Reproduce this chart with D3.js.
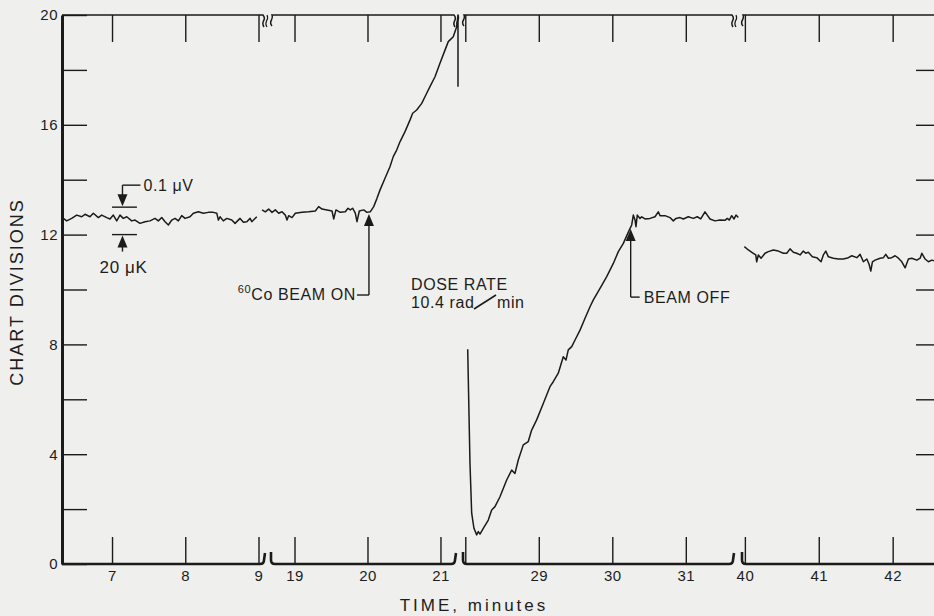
<!DOCTYPE html>
<html>
<head>
<meta charset="utf-8">
<script src="https://cdn.jsdelivr.net/npm/d3@7"></script>
<style>
  html, body { margin: 0; padding: 0; background: #efefed; }
  svg { display: block; }
  text { font-family: "Liberation Sans", Arial, sans-serif; fill: #1d1d1d; }
</style>
</head>
<body>
<svg id="chart" width="934" height="616"></svg>
<script>
// ---- time windows (minutes) shown on the broken time axis ----
const segmentDomains = [[6.317, 9.075], [18.678, 21.199], [27.969, 31.642], [39.961, 42.6]];
const segmentTicks = [[7, 8, 9], [19, 20, 21], [28, 29, 30, 31], [40, 41, 42]];
const segmentTickLabels = [["7", "8", "9"], ["19", "20", "21"], ["", "29", "30", "31"], ["40", "41", "42"]];

// ---- chart divisions ----
const yTicks = [0, 2, 4, 6, 8, 10, 12, 14, 16, 18, 20];
const yTickLabels = ["0", "", "4", "", "8", "", "12", "", "16", "", "20"];
const yRightTicks = [2, 4, 6, 8, 10, 12, 14, 16, 18];

// ---- recorder trace, one run per time window ----
const trace1Time = [6.335, 6.381, 6.449, 6.518, 6.586, 6.631, 6.699, 6.745, 6.813, 6.859, 6.928, 6.973,
  7.018, 7.064, 7.109, 7.154, 7.201, 7.269, 7.314, 7.382, 7.451, 7.519, 7.587, 7.632, 7.679, 7.724,
  7.769, 7.816, 7.861, 7.906, 7.952, 7.997, 8.065, 8.111, 8.179, 8.247, 8.315, 8.384, 8.430, 8.452,
  8.475, 8.520, 8.567, 8.635, 8.680, 8.748, 8.794, 8.840, 8.885, 8.908, 8.977];
const trace1Value = [12.59, 12.50, 12.59, 12.71, 12.65, 12.74, 12.65, 12.78, 12.62, 12.71, 12.62, 12.57,
  12.71, 12.50, 12.71, 12.59, 12.65, 12.50, 12.53, 12.41, 12.47, 12.50, 12.59, 12.50, 12.62, 12.47,
  12.35, 12.53, 12.59, 12.50, 12.69, 12.59, 12.65, 12.78, 12.83, 12.78, 12.81, 12.81, 12.78, 12.53,
  12.65, 12.50, 12.59, 12.53, 12.41, 12.59, 12.45, 12.47, 12.59, 12.47, 12.65];

const trace2Time = [18.555, 18.600, 18.646, 18.692, 18.737, 18.783, 18.829, 18.874, 18.897, 18.920,
  18.966, 19.011, 19.103, 19.194, 19.285, 19.331, 19.377, 19.445, 19.514, 19.537, 19.568, 19.627,
  19.696, 19.733, 19.764, 19.797, 19.833, 19.856, 19.888, 19.948, 19.993, 20.038, 20.085, 20.130,
  20.171, 20.240, 20.308, 20.353, 20.400, 20.445, 20.514, 20.582, 20.619, 20.674, 20.743, 20.811,
  20.856, 20.925, 20.993, 21.062, 21.107, 21.175, 21.222, 21.240, 21.240];
const trace2Value = [12.90, 12.83, 12.93, 12.81, 12.90, 12.78, 12.83, 12.71, 12.53, 12.69,
  12.62, 12.78, 12.81, 12.83, 12.86, 13.02, 12.93, 12.90, 12.86, 12.57, 12.90, 12.81,
  12.83, 12.96, 12.90, 12.96, 12.78, 12.47, 12.86, 12.90, 12.81, 12.83, 13.02, 13.32,
  13.62, 14.05, 14.47, 14.84, 15.08, 15.38, 15.75, 16.17, 16.42, 16.54, 16.78, 17.15,
  17.39, 17.75, 18.24, 18.72, 19.03, 19.21, 19.57, 20.00, 17.39];

const trace3Time = [28.033, 28.064, 28.087, 28.118, 28.155, 28.177, 28.200, 28.245, 28.313, 28.359,
  28.404, 28.472, 28.563, 28.631, 28.676, 28.721, 28.789, 28.857, 28.903, 28.971, 29.061, 29.152,
  29.197, 29.265, 29.333, 29.370, 29.401, 29.448, 29.493, 29.561, 29.629, 29.697, 29.742, 29.833,
  29.924, 30.014, 30.082, 30.150, 30.218, 30.264, 30.286, 30.309, 30.322, 30.340, 30.377, 30.400,
  30.445, 30.513, 30.581, 30.626, 30.649, 30.717, 30.785, 30.830, 30.867, 30.921, 30.966, 31.034,
  31.102, 31.156, 31.203, 31.261, 31.292, 31.329, 31.397, 31.465, 31.533, 31.565, 31.592, 31.624,
  31.656, 31.683, 31.714];
const trace3Value = [7.82, 3.67, 1.85, 1.30, 1.06, 1.18, 1.09, 1.30, 1.60, 1.97,
  2.09, 2.45, 3.06, 3.42, 3.30, 3.79, 4.34, 4.46, 4.88, 5.25, 5.85, 6.46,
  6.64, 6.95, 7.55, 7.43, 7.80, 7.92, 8.16, 8.52, 8.95, 9.37, 9.62, 10.04,
  10.47, 10.95, 11.38, 11.68, 12.09, 12.35, 12.71, 12.53, 12.29, 12.71, 12.59, 12.65,
  12.57, 12.59, 12.65, 12.83, 12.69, 12.69, 12.62, 12.50, 12.59, 12.62, 12.57, 12.65,
  12.59, 12.65, 12.57, 12.83, 12.71, 12.57, 12.50, 12.53, 12.52, 12.59, 12.53, 12.69,
  12.57, 12.71, 12.62];

const trace4Time = [39.993, 40.047, 40.114, 40.147, 40.160, 40.182, 40.219, 40.273, 40.318, 40.385,
  40.453, 40.521, 40.567, 40.611, 40.656, 40.702, 40.747, 40.791, 40.824, 40.859, 40.913, 40.973,
  41.031, 41.062, 41.095, 41.130, 41.198, 41.265, 41.333, 41.401, 41.447, 41.515, 41.559, 41.604,
  41.650, 41.681, 41.704, 41.726, 41.762, 41.830, 41.875, 41.907, 41.942, 41.988, 42.033, 42.078,
  42.124, 42.169, 42.213, 42.259, 42.327, 42.372, 42.395, 42.439, 42.484, 42.530, 42.575];
const trace4Value = [11.56, 11.44, 11.32, 11.26, 11.01, 11.26, 11.14, 11.32, 11.38, 11.44,
  11.40, 11.32, 11.32, 11.48, 11.36, 11.32, 11.26, 11.40, 11.32, 11.36, 11.19, 11.16,
  11.01, 11.26, 11.40, 11.19, 11.14, 11.11, 11.11, 11.16, 11.23, 11.16, 11.28, 11.01,
  11.11, 10.92, 10.67, 11.01, 11.07, 11.14, 11.16, 11.28, 11.14, 11.16, 11.23, 11.14,
  11.01, 10.79, 11.11, 11.14, 11.07, 11.14, 11.32, 11.11, 11.01, 11.07, 11.04];

const traceTimes = [trace1Time, trace2Time, trace3Time, trace4Time];
const traceValues = [trace1Value, trace2Value, trace3Value, trace4Value];

// ---- annotation anchors (minutes, divisions) ----
const beamOnTime = 20.02, beamOnValue = 12.75;
const beamOffTime = 30.25, beamOffValue = 12.2;
const scaleBarTimes = [7.0, 7.34];
const scaleBarValues = [13, 12];

// ---- layout ----
const ink = "#1b1b1b";
const plotTop = 15, plotBottom = 564, plotLeft = 62, rightAxisX = 937;
const segmentRanges = [[62, 264], [271, 455], [463, 733], [742, 937]];
const tickLen = 27;

const svg = d3.select("#chart");
const y = d3.scaleLinear().domain([0, 20]).range([plotBottom, plotTop]);
const xs = segmentDomains.map((d, i) => d3.scaleLinear().domain(d).range(segmentRanges[i]));

// left axis: inward ticks, labels outside
const yAxis = d3.axisLeft(y).tickValues(yTicks)
  .tickFormat((d, i) => yTickLabels[i]).tickSize(-25).tickSizeOuter(0).tickPadding(4);
const gy = svg.append("g").attr("transform", `translate(${plotLeft},0)`).call(yAxis);
gy.select(".domain").attr("stroke", ink).attr("stroke-width", 3);
gy.selectAll(".tick line").attr("stroke", ink).attr("stroke-width", 1.4);
gy.selectAll(".tick text").attr("font-size", 15).attr("fill", ink).attr("letter-spacing", 0.5);

// right axis (frame edge lies just beyond the page)
const yAxisR = d3.axisRight(y).tickValues(yRightTicks).tickFormat("").tickSize(-21).tickSizeOuter(0);
const gyr = svg.append("g").attr("transform", `translate(${rightAxisX},0)`).call(yAxisR);
gyr.select(".domain").attr("stroke", ink).attr("stroke-width", 2);
gyr.selectAll(".tick line").attr("stroke", ink).attr("stroke-width", 1.4);

// time axis segments, bottom and top
xs.forEach((x, i) => {
  const gb = svg.append("g").attr("transform", `translate(0,${plotBottom})`)
    .call(d3.axisBottom(x).tickValues(segmentTicks[i])
      .tickFormat((d, j) => segmentTickLabels[i][j]).tickSize(-tickLen).tickSizeOuter(0).tickPadding(6));
  gb.select(".domain").remove();
  gb.selectAll(".tick line").attr("stroke", ink).attr("stroke-width", 1.4);
  gb.selectAll(".tick text").attr("font-size", 15).attr("fill", ink).attr("letter-spacing", 0.5);

  const gt = svg.append("g").attr("transform", `translate(0,${plotTop})`)
    .call(d3.axisTop(x).tickValues(segmentTicks[i]).tickFormat("").tickSize(-tickLen).tickSizeOuter(0));
  gt.select(".domain").remove();
  gt.selectAll(".tick line").attr("stroke", ink).attr("stroke-width", 1.4);

  const [x0, x1] = x.range();
  const first = i === 0, last = i === xs.length - 1;

  // bottom baseline with hooked ends at the breaks
  const p = d3.path();
  if (first) { p.moveTo(x0, plotBottom); }
  else {
    p.moveTo(x0, plotBottom - 12); p.lineTo(x0, plotBottom - 4);
    p.quadraticCurveTo(x0, plotBottom, x0 + 4, plotBottom);
  }
  if (last) { p.lineTo(x1, plotBottom); }
  else {
    p.lineTo(x1 - 4, plotBottom); p.quadraticCurveTo(x1, plotBottom, x1, plotBottom - 4);
    p.lineTo(x1 + 1, plotBottom - 11);
  }
  svg.append("path").attr("d", p.toString()).attr("fill", "none")
    .attr("stroke", ink).attr("stroke-width", 2.6);

  // top line with wavy break marks
  const q = d3.path();
  if (first) { q.moveTo(x0, plotTop); }
  else {
    q.moveTo(x0 + 1, plotTop + 11);
    q.quadraticCurveTo(x0 - 1.5, plotTop + 8, x0 + 0.5, plotTop + 5);
    q.quadraticCurveTo(x0 + 2, plotTop + 2, x0 + 1, plotTop);
  }
  q.lineTo(last ? x1 : x1 - 1, plotTop);
  if (!last) {
    q.quadraticCurveTo(x1 + 1.5, plotTop + 3, x1 - 0.5, plotTop + 6);
    q.quadraticCurveTo(x1 - 2, plotTop + 9, x1, plotTop + 12);
  }
  svg.append("path").attr("d", q.toString()).attr("fill", "none")
    .attr("stroke", ink).attr("stroke-width", 1.5);
  if (!last) {
    const w = d3.path();
    w.moveTo(x1 + 3, plotTop);
    w.quadraticCurveTo(x1 + 4.5, plotTop + 3, x1 + 2.5, plotTop + 6);
    w.quadraticCurveTo(x1 + 1, plotTop + 9, x1 + 3, plotTop + 12);
    svg.append("path").attr("d", w.toString()).attr("fill", "none")
      .attr("stroke", ink).attr("stroke-width", 1.2);
  }
});

// recorder trace
traceTimes.forEach((ts, i) => {
  const pts = ts.map((t, j) => [t, traceValues[i][j]]);
  const line = d3.line().x(d => xs[i](d[0])).y(d => y(d[1])).curve(d3.curveLinear);
  svg.append("path").datum(pts).attr("d", line).attr("fill", "none")
    .attr("stroke", ink).attr("stroke-width", 1.5).attr("stroke-linejoin", "round");
});

// helpers for annotation arrows
function arrowHead(x, tipY, dir) {
  // dir = +1 points down, -1 points up
  const h = 12, w = 5;
  svg.append("path")
    .attr("d", `M${x},${tipY} L${x - w},${tipY - dir * h} L${x + w},${tipY - dir * h} Z`)
    .attr("fill", ink);
}
function seg(x1, y1, x2, y2, sw) {
  svg.append("line").attr("x1", x1).attr("y1", y1).attr("x2", x2).attr("y2", y2)
    .attr("stroke", ink).attr("stroke-width", sw || 1.4);
}
function label(x, yy, txt, anchor, size) {
  return svg.append("text").attr("x", x).attr("y", yy).attr("text-anchor", anchor || "start")
    .attr("font-size", size || 16).attr("letter-spacing", 0.6).text(txt);
}

// sensitivity scale bar: 1 division = 0.1 µV = 20 µK
{
  const xa = xs[0](scaleBarTimes[0]), xb = xs[0](scaleBarTimes[1]);
  const xm = (xa + xb) / 2 - 2;
  const yHi = y(scaleBarValues[0]), yLo = y(scaleBarValues[1]);
  seg(xa, yHi, xb, yHi);
  seg(xa, yLo, xb, yLo);
  seg(xm, yHi - 22, xm, yHi - 10);
  seg(xm, yHi - 22, xm + 18, yHi - 22);
  arrowHead(xm, yHi - 1, 1);
  seg(xm, yLo + 10, xm, yLo + 17);
  arrowHead(xm, yLo + 1, -1);
  label(xm + 21, yHi - 16, "0.1 \u03bcV", "start", 16);
  label(xm + 1, yLo + 38, "20 \u03bcK", "middle", 17);
}

// beam on
{
  const xa = xs[1](beamOnTime), tip = y(beamOnValue);
  arrowHead(xa, tip, -1);
  const yb = tip + 81;
  seg(xa, tip + 10, xa, yb);
  seg(xa, yb, xa - 12, yb);
  const t = svg.append("text").attr("x", xa - 13).attr("y", yb + 5).attr("text-anchor", "end")
    .attr("font-size", 16).attr("letter-spacing", 0.6);
  t.append("tspan").attr("font-size", 11).attr("dy", -7).text("60");
  t.append("tspan").attr("dy", 7).text("Co BEAM ON");
}

// beam off
{
  const xa = xs[2](beamOffTime), tip = y(beamOffValue);
  arrowHead(xa, tip, -1);
  const yb = tip + 68;
  seg(xa, tip + 10, xa, yb);
  seg(xa, yb, xa + 9, yb);
  label(xa + 13, yb + 6, "BEAM OFF", "start", 16);
}

// dose rate note
label(411, 290, "DOSE RATE", "start", 16);
label(411, 308, "10.4 rad", "start", 16);
seg(474, 309, 496, 295, 1.6);
label(497, 308, "min", "start", 16);

// axis titles
svg.append("text").attr("transform", "translate(17,292) rotate(-90)")
  .attr("text-anchor", "middle").attr("dominant-baseline", "central")
  .attr("font-size", 18).attr("letter-spacing", 2).text("CHART DIVISIONS");
svg.append("text").attr("x", 474).attr("y", 611).attr("text-anchor", "middle")
  .attr("font-size", 17).attr("letter-spacing", 3).text("TIME, minutes");
</script>
</body>
</html>
